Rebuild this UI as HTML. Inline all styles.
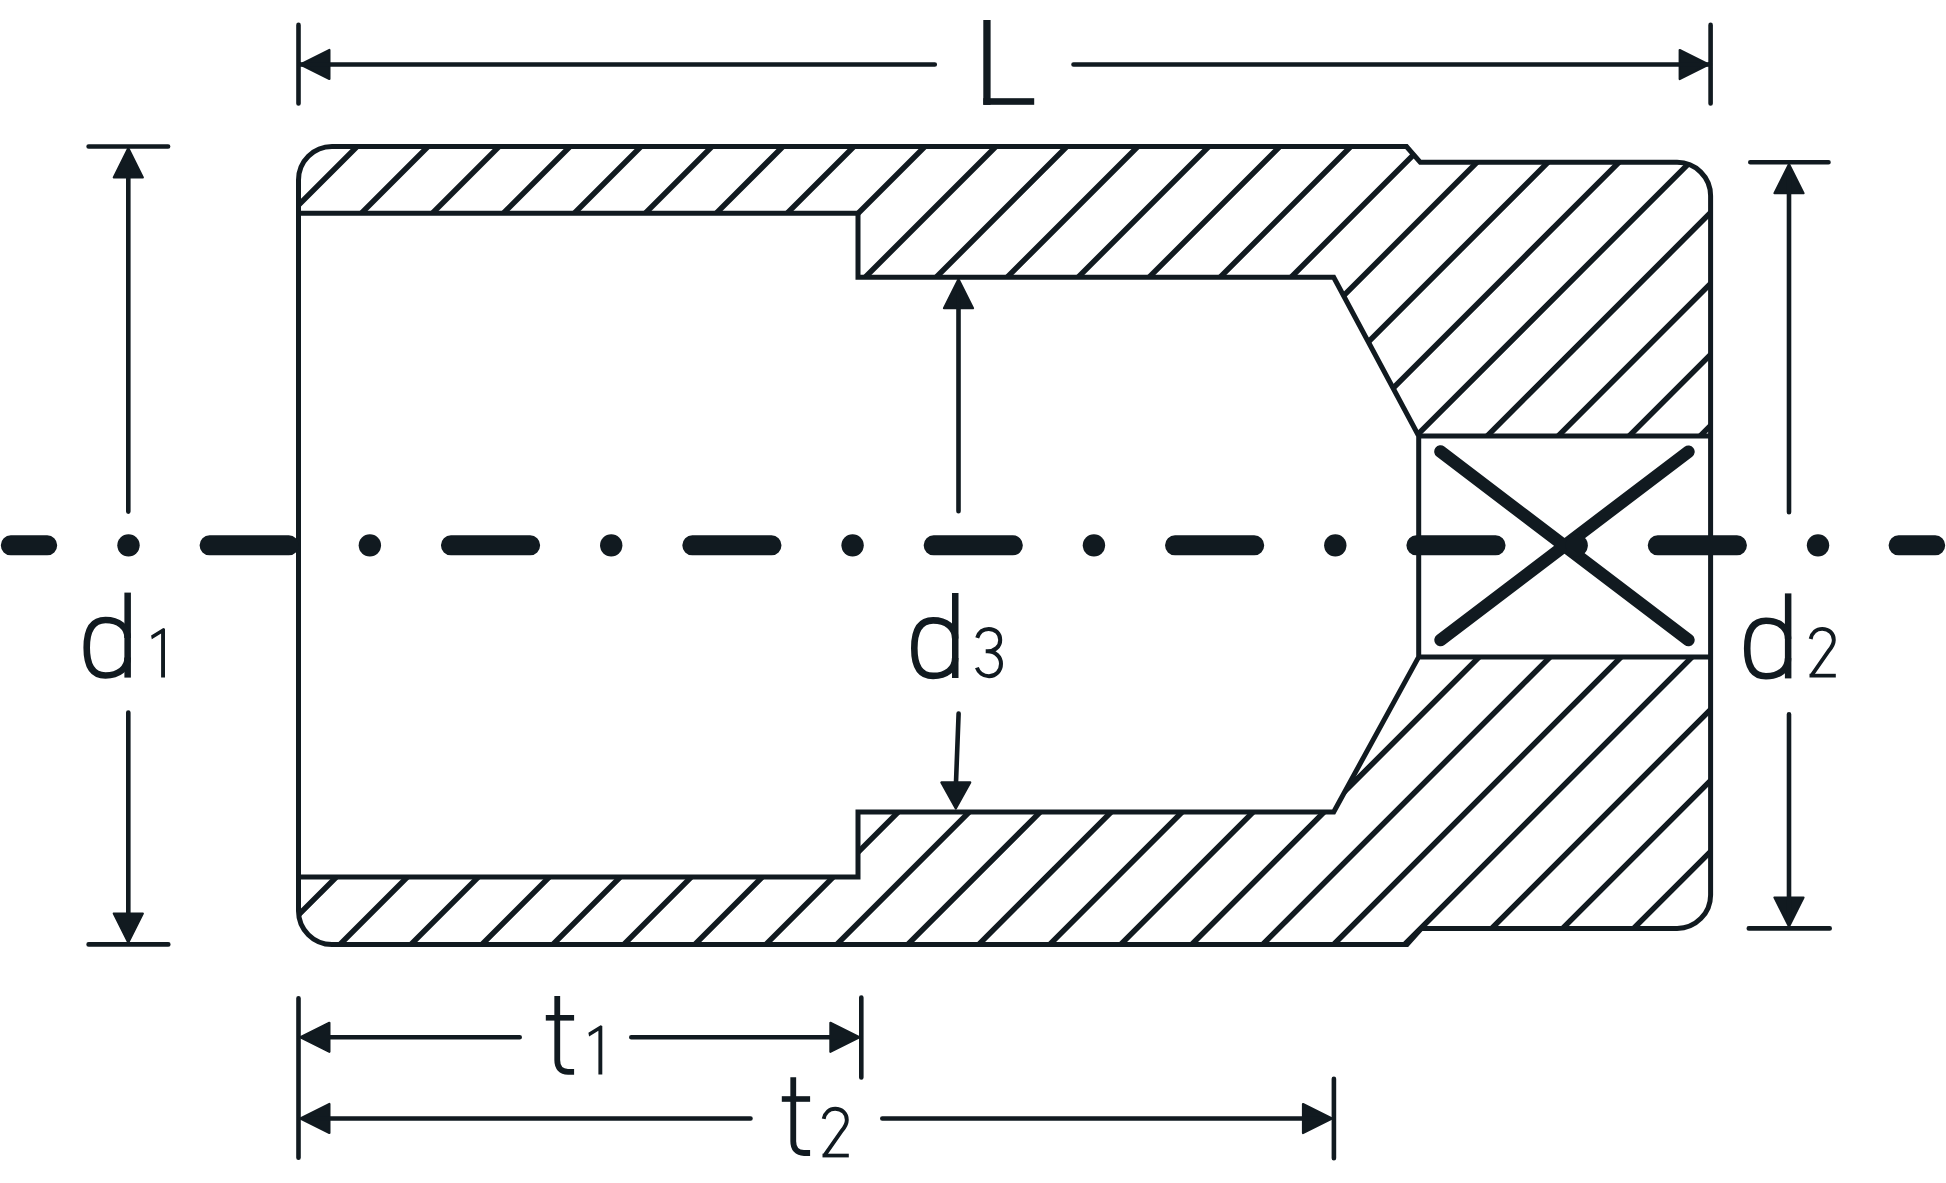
<!DOCTYPE html>
<html><head><meta charset="utf-8"><title>Socket drawing</title>
<style>html,body{margin:0;padding:0;background:#fff;width:1946px;height:1183px;overflow:hidden;font-family:"Liberation Sans",sans-serif;} svg{display:block}</style>
</head><body>
<svg width="1946" height="1183" viewBox="0 0 1946 1183">
<rect width="1946" height="1183" fill="#ffffff"/>
<defs>
<clipPath id="hc"><path d="M 298.5,213.3 L 298.5,180.0 A 33.5,33.5 0 0 1 332.0,146.5 L 1406.5,146.5 L 1420.3,162.3 L 1677.1,162.3 A 33.5,33.5 0 0 1 1710.6,195.8 L 1710.6,435.9 L 1418.7,435.9 L 1333.7,277.3 L 858.0,277.3 L 858.0,213.3 Z"/><path d="M 298.5,877.1 L 858.0,877.1 L 858.0,811.9 L 1333.7,811.9 L 1418.7,656.9 L 1710.6,656.9 L 1710.6,894.9 A 33.5,33.5 0 0 1 1677.1,928.4 L 1421.5,928.4 L 1407.0,944.5 L 332.0,944.5 A 33.5,33.5 0 0 1 298.5,911.0 Z"/></clipPath>
</defs>
<g clip-path="url(#hc)"><path d="M 229.70,-10 L -973.30,1193 M 300.68,-10 L -902.32,1193 M 371.66,-10 L -831.34,1193 M 442.64,-10 L -760.36,1193 M 513.62,-10 L -689.38,1193 M 584.60,-10 L -618.40,1193 M 655.58,-10 L -547.42,1193 M 726.56,-10 L -476.44,1193 M 797.54,-10 L -405.46,1193 M 868.52,-10 L -334.48,1193 M 939.50,-10 L -263.50,1193 M 1010.48,-10 L -192.52,1193 M 1081.46,-10 L -121.54,1193 M 1152.44,-10 L -50.56,1193 M 1223.42,-10 L 20.42,1193 M 1294.40,-10 L 91.40,1193 M 1365.38,-10 L 162.38,1193 M 1436.36,-10 L 233.36,1193 M 1507.34,-10 L 304.34,1193 M 1578.32,-10 L 375.32,1193 M 1649.30,-10 L 446.30,1193 M 1720.28,-10 L 517.28,1193 M 1791.26,-10 L 588.26,1193 M 1862.24,-10 L 659.24,1193 M 1933.22,-10 L 730.22,1193 M 2004.20,-10 L 801.20,1193 M 2075.18,-10 L 872.18,1193 M 2146.16,-10 L 943.16,1193 M 2217.14,-10 L 1014.14,1193 M 2288.12,-10 L 1085.12,1193 M 2359.10,-10 L 1156.10,1193 M 2430.08,-10 L 1227.08,1193 M 2501.06,-10 L 1298.06,1193 M 2572.04,-10 L 1369.04,1193 M 2643.02,-10 L 1440.02,1193 M 2714.00,-10 L 1511.00,1193 M 2784.98,-10 L 1581.98,1193 M 2855.96,-10 L 1652.96,1193 M 2926.94,-10 L 1723.94,1193 M 2997.92,-10 L 1794.92,1193 M 3068.90,-10 L 1865.90,1193" stroke="#111a20" stroke-width="5.5" fill="none"/></g>
<path d="M 298.5,180.0 A 33.5,33.5 0 0 1 332.0,146.5 L 1406.5,146.5 L 1420.3,162.3 L 1677.1,162.3 A 33.5,33.5 0 0 1 1710.6,195.8 L 1710.6,894.9 A 33.5,33.5 0 0 1 1677.1,928.4 L 1421.5,928.4 L 1407.0,944.5 L 332.0,944.5 A 33.5,33.5 0 0 1 298.5,911.0 Z M 298.5,213.3 H 858.0 V 277.3 H 1333.7 L 1418.7,435.9 H 1710.6 M 1418.7,435.9 V 656.9 M 1710.6,656.9 H 1418.7 L 1333.7,811.9 H 858.0 V 877.1 H 298.5" stroke="#111a20" stroke-width="5.0" fill="none" stroke-linejoin="miter"/>
<path d="M 1440.5,451.6 L 1688.4,640.0 M 1688.4,451.7 L 1440.6,639.9" stroke="#111a20" stroke-width="12.6" stroke-linecap="round" fill="none"/>
<path d="M 209.58,545.35 L 288.78,545.35 M 450.94,545.35 L 530.14,545.35 M 692.30,545.35 L 771.50,545.35 M 933.66,545.35 L 1012.86,545.35 M 1175.02,545.35 L 1254.22,545.35 M 1416.38,545.35 L 1495.58,545.35 M 1657.74,545.35 L 1736.94,545.35 M 10.8,545.35 L 47.2,545.35 M 1898.6,545.35 L 1935.2,545.35" stroke="#111a20" stroke-width="20" stroke-linecap="round" fill="none"/>
<circle cx="128.50" cy="545.35" r="11.2" fill="#111a20"/><circle cx="369.86" cy="545.35" r="11.2" fill="#111a20"/><circle cx="611.22" cy="545.35" r="11.2" fill="#111a20"/><circle cx="852.58" cy="545.35" r="11.2" fill="#111a20"/><circle cx="1093.94" cy="545.35" r="11.2" fill="#111a20"/><circle cx="1335.30" cy="545.35" r="11.2" fill="#111a20"/><circle cx="1576.66" cy="545.35" r="11.2" fill="#111a20"/><circle cx="1818.02" cy="545.35" r="11.2" fill="#111a20"/>
<path d="M 300.36,64.50 L 329.40,49.98 L 329.40,79.02 Z" fill="#111a20" stroke="#111a20" stroke-width="2.2" stroke-linejoin="round"/>
<path d="M 1708.74,64.50 L 1679.70,79.02 L 1679.70,49.98 Z" fill="#111a20" stroke="#111a20" stroke-width="2.2" stroke-linejoin="round"/>
<path d="M 128.30,148.36 L 142.82,177.40 L 113.78,177.40 Z" fill="#111a20" stroke="#111a20" stroke-width="2.2" stroke-linejoin="round"/>
<path d="M 128.30,942.54 L 113.78,913.50 L 142.82,913.50 Z" fill="#111a20" stroke="#111a20" stroke-width="2.2" stroke-linejoin="round"/>
<path d="M 1789.00,164.16 L 1803.52,193.20 L 1774.48,193.20 Z" fill="#111a20" stroke="#111a20" stroke-width="2.2" stroke-linejoin="round"/>
<path d="M 1789.00,926.54 L 1774.48,897.50 L 1803.52,897.50 Z" fill="#111a20" stroke="#111a20" stroke-width="2.2" stroke-linejoin="round"/>
<path d="M 958.50,279.16 L 973.02,308.20 L 943.98,308.20 Z" fill="#111a20" stroke="#111a20" stroke-width="2.2" stroke-linejoin="round"/>
<path d="M 955.80,808.53 L 941.36,782.40 L 970.24,782.40 Z" fill="#111a20" stroke="#111a20" stroke-width="2.2" stroke-linejoin="round"/>
<path d="M 300.36,1037.30 L 329.40,1022.78 L 329.40,1051.82 Z" fill="#111a20" stroke="#111a20" stroke-width="2.2" stroke-linejoin="round"/>
<path d="M 859.44,1037.30 L 830.40,1051.82 L 830.40,1022.78 Z" fill="#111a20" stroke="#111a20" stroke-width="2.2" stroke-linejoin="round"/>
<path d="M 300.36,1118.50 L 329.40,1103.98 L 329.40,1133.02 Z" fill="#111a20" stroke="#111a20" stroke-width="2.2" stroke-linejoin="round"/>
<path d="M 1332.04,1118.50 L 1303.00,1133.02 L 1303.00,1103.98 Z" fill="#111a20" stroke="#111a20" stroke-width="2.2" stroke-linejoin="round"/>
<path d="M 298.5,24.90 V 103.50 M 1710.6,24.90 V 103.50 M 300.80,64.5 H 934.80 M 1073.50,64.5 H 1708.30 M 88.60,146.5 H 168.10 M 88.60,944.4 H 168.30 M 128.3,152.30 V 511.60 M 128.3,712.50 V 937.70 M 1750.30,162.3 H 1828.50 M 1748.80,928.4 H 1829.70 M 1789.0,172.30 V 512.20 M 1789.0,714.30 V 917.70 M 958.5,292.30 V 511.20 M 958.6,713.60 L 955.9,785 M 298.5,998.20 V 1157.70 M 861.3,997.50 V 1077.50 M 1333.9,1078.80 V 1158.20 M 305.80,1037.3 H 519.70 M 631.30,1037.3 H 853.70 M 305.80,1118.5 H 750.50 M 882.30,1118.5 H 1325.70" stroke="#111a20" stroke-width="4.6" stroke-linecap="round" fill="none"/>
<rect x="124.40" y="592.60" width="6.5" height="85.0" fill="#111a20"/><path d="M 127.60,638.00 C 127.60,627.20 118.76,620.00 105.50,620.00 C 93.09,620.00 86.70,629.43 86.70,647.75 C 86.70,666.07 93.09,675.50 105.50,675.50 C 118.76,675.50 127.60,668.30 127.60,657.50" stroke="#111a20" stroke-width="6.6" fill="none"/>
<rect x="952.00" y="593.00" width="6.5" height="85.0" fill="#111a20"/><path d="M 955.20,638.40 C 955.20,627.60 946.36,620.40 933.10,620.40 C 920.69,620.40 914.30,629.83 914.30,648.15 C 914.30,666.47 920.69,675.90 933.10,675.90 C 946.36,675.90 955.20,668.70 955.20,657.90" stroke="#111a20" stroke-width="6.6" fill="none"/>
<rect x="1784.90" y="593.40" width="6.5" height="85.0" fill="#111a20"/><path d="M 1788.10,638.80 C 1788.10,628.00 1779.26,620.80 1766.00,620.80 C 1753.59,620.80 1747.20,630.23 1747.20,648.55 C 1747.20,666.87 1753.59,676.30 1766.00,676.30 C 1779.26,676.30 1788.10,669.10 1788.10,658.30" stroke="#111a20" stroke-width="6.6" fill="none"/>
<path d="M 165.00,628.70 L 165.00,677.60 L 161.10,677.60 L 161.10,633.50 L 151.80,639.30 L 151.10,635.50 L 163.30,627.90 Z" fill="#111a20"/>
<path d="M 602.30,1026.00 L 602.30,1074.60 L 598.40,1074.60 L 598.40,1030.80 L 589.10,1036.60 L 588.40,1032.80 L 600.60,1025.20 Z" fill="#111a20"/>
<path d="M 977.20,637.80 C 979.00,632.00 983.00,629.00 988.70,629.00 C 995.50,629.00 1000.20,633.50 1000.20,640.00 C 1000.20,646.50 995.00,651.30 987.50,651.30 L 985.70,651.30 M 987.50,651.30 C 995.50,651.30 1001.00,657.00 1001.00,663.80 C 1001.00,670.80 996.00,676.30 989.00,676.30 C 983.00,676.30 978.50,672.30 976.90,667.70" stroke="#111a20" stroke-width="4.0" fill="none"/>
<path d="M 1810.70,639.00 C 1812.00,632.50 1816.50,628.90 1822.20,628.90 C 1829.00,628.90 1833.80,633.50 1833.80,640.00 C 1833.80,644.50 1831.50,647.50 1829.00,650.50 L 1811.90,675.00" stroke="#111a20" stroke-width="3.9" fill="none"/><rect x="1809.50" y="673.80" width="26.3" height="3.7" fill="#111a20"/>
<path d="M 823.70,1118.90 C 825.00,1112.40 829.50,1108.80 835.20,1108.80 C 842.00,1108.80 846.80,1113.40 846.80,1119.90 C 846.80,1124.40 844.50,1127.40 842.00,1130.40 L 824.90,1154.90" stroke="#111a20" stroke-width="3.9" fill="none"/><rect x="822.50" y="1153.70" width="26.3" height="3.7" fill="#111a20"/>
<rect x="545.80" y="1015.00" width="28.3" height="5.6" fill="#111a20"/><path d="M 557.25,996.00 L 557.25,1060.00 C 557.25,1067.50 561.00,1071.80 568.00,1071.80 L 574.10,1071.80" stroke="#111a20" stroke-width="5.8" fill="none"/>
<rect x="781.80" y="1096.20" width="28.3" height="5.6" fill="#111a20"/><path d="M 793.25,1077.20 L 793.25,1141.20 C 793.25,1148.70 797.00,1153.00 804.00,1153.00 L 810.10,1153.00" stroke="#111a20" stroke-width="5.8" fill="none"/>
<rect x="983.3" y="20.0" width="7.3" height="84.8" fill="#111a20"/><rect x="983.3" y="98.2" width="50.9" height="6.6" fill="#111a20"/>
</svg>
</body></html>
